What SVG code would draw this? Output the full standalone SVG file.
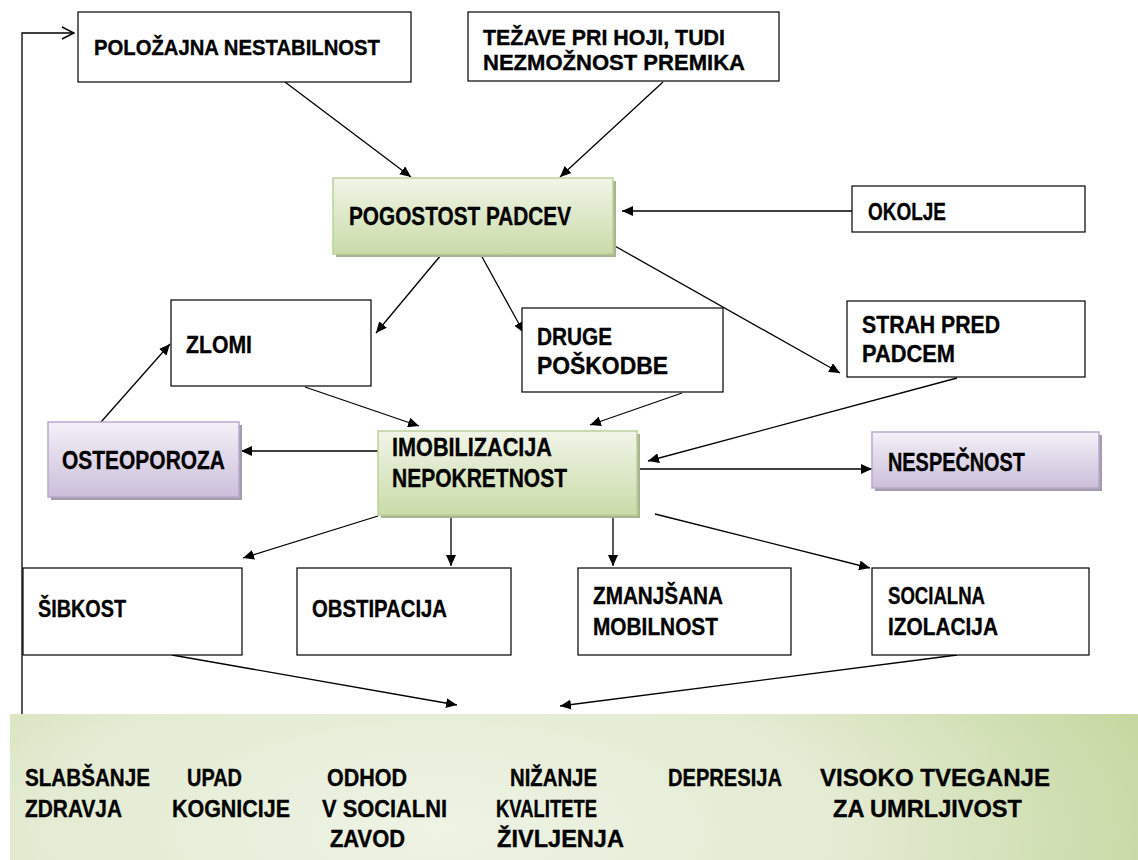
<svg xmlns="http://www.w3.org/2000/svg" width="1138" height="860" viewBox="0 0 1138 860">
<defs>
<linearGradient id="gGreen" x1="0" y1="0" x2="0" y2="1">
<stop offset="0" stop-color="#f1f5e8"/>
<stop offset="1" stop-color="#c9dba8"/>
</linearGradient>
<linearGradient id="gPurple" x1="0" y1="0" x2="0" y2="1">
<stop offset="0" stop-color="#f4f0f8"/>
<stop offset="1" stop-color="#cbbfda"/>
</linearGradient>
<radialGradient id="gBottom" cx="0.38" cy="0.8" r="0.72" gradientTransform="translate(0.38 0.8) scale(1 3.2) translate(-0.38 -0.8)">
<stop offset="0" stop-color="#eef3e4"/>
<stop offset="0.5" stop-color="#e3ebd2"/>
<stop offset="1" stop-color="#c0d497"/>
</radialGradient>
<marker id="ah" markerUnits="userSpaceOnUse" markerWidth="12" markerHeight="10" refX="11" refY="5" orient="auto">
<path d="M0,0 L11,5 L0,10 z" fill="#000"/>
</marker>
<marker id="av" markerUnits="userSpaceOnUse" markerWidth="14" markerHeight="14" refX="13" refY="7" orient="auto">
<path d="M1,1 L13,7 L1,13" fill="none" stroke="#000" stroke-width="1.4"/>
</marker>
</defs>
<style>
.box{fill:#fff;stroke:#000;stroke-width:1.2}
.gbox{fill:url(#gGreen);stroke:#bcd19a;stroke-width:1.5}
.pbox{fill:url(#gPurple);stroke:#b9a9cd;stroke-width:1.5}
.gsh{fill:#a8b592}
.psh{fill:#a39cad}
text{font-family:"Liberation Sans",Arial,sans-serif;font-weight:bold;fill:#000;stroke:#000;stroke-width:0.35;font-size:24px}
.big{font-size:26px}
.sm{font-size:22px}
.ln{stroke:#000;stroke-width:1.3;fill:none}
.arr{marker-end:url(#ah)}
</style>

<g id="connectors">
<line class="ln arr" x1="285" y1="82" x2="411" y2="177"/>
<line class="ln arr" x1="663" y1="82" x2="560" y2="177"/>
<line class="ln arr" x1="441" y1="255" x2="376" y2="333"/>
<line class="ln arr" x1="481" y1="255" x2="524" y2="333"/>
<line class="ln arr" x1="613" y1="245" x2="840" y2="373"/>
<line class="ln arr" x1="852" y1="211" x2="622" y2="211"/>
<line class="ln arr" x1="101" y1="422" x2="170" y2="344"/>
<line class="ln arr" x1="305" y1="387" x2="419" y2="426"/>
<line class="ln arr" x1="682" y1="393" x2="590" y2="425"/>
<line class="ln arr" x1="957" y1="378" x2="648" y2="461"/>
<line class="ln arr" x1="378" y1="451" x2="241" y2="451"/>
<line class="ln arr" x1="640" y1="469" x2="872" y2="469"/>
<line class="ln arr" x1="378" y1="516" x2="243" y2="558"/>
<line class="ln arr" x1="451" y1="518" x2="451" y2="566"/>
<line class="ln arr" x1="613" y1="518" x2="613" y2="566"/>
<line class="ln arr" x1="655" y1="514" x2="870" y2="568"/>
<line class="ln arr" x1="172" y1="655" x2="457" y2="705"/>
<line class="ln arr" x1="957" y1="655" x2="560" y2="706"/>
<polyline class="ln" points="22,715 22,33 74,33" marker-end="url(#av)"/>
</g>

<g id="n-polozajna">
<rect class="box" x="78" y="12" width="333" height="70"/>
<text x="94" y="55" class="sm" textLength="286" lengthAdjust="spacingAndGlyphs">POLOŽAJNA NESTABILNOST</text>
</g>
<g id="n-tezave">
<rect class="box" x="468" y="12" width="311" height="69"/>
<text x="483" y="45" class="sm" textLength="242" lengthAdjust="spacingAndGlyphs">TEŽAVE PRI HOJI, TUDI</text>
<text x="483" y="70" class="sm" textLength="262" lengthAdjust="spacingAndGlyphs">NEZMOŽNOST PREMIKA</text>
</g>
<g id="n-pogostost">
<rect class="gsh" x="336" y="181" width="280" height="76"/>
<rect class="gbox" x="333" y="178" width="280" height="76"/>
<text x="349" y="225" class="big" textLength="222" lengthAdjust="spacingAndGlyphs">POGOSTOST PADCEV</text>
</g>
<g id="n-okolje">
<rect class="box" x="852" y="186" width="233" height="46"/>
<text x="868" y="220" textLength="78" lengthAdjust="spacingAndGlyphs">OKOLJE</text>
</g>
<g id="n-zlomi">
<rect class="box" x="171" y="300" width="200" height="86"/>
<text x="186" y="353" textLength="66" lengthAdjust="spacingAndGlyphs">ZLOMI</text>
</g>
<g id="n-druge">
<rect class="box" x="522" y="308" width="201" height="84"/>
<text x="537" y="345" textLength="75" lengthAdjust="spacingAndGlyphs">DRUGE</text>
<text x="537" y="374" textLength="131" lengthAdjust="spacingAndGlyphs">POŠKODBE</text>
</g>
<g id="n-strah">
<rect class="box" x="847" y="301" width="238" height="76"/>
<text x="862" y="333" textLength="138" lengthAdjust="spacingAndGlyphs">STRAH PRED</text>
<text x="862" y="362" textLength="93" lengthAdjust="spacingAndGlyphs">PADCEM</text>
</g>
<g id="n-osteoporoza">
<rect class="psh" x="51" y="425" width="191" height="75"/>
<rect class="pbox" x="48" y="422" width="191" height="75"/>
<text x="62" y="469" class="big" textLength="163" lengthAdjust="spacingAndGlyphs">OSTEOPOROZA</text>
</g>
<g id="n-imobilizacija">
<rect class="gsh" x="381" y="434" width="259" height="84"/>
<rect class="gbox" x="378" y="431" width="259" height="84"/>
<text x="392" y="456" class="big" textLength="160" lengthAdjust="spacingAndGlyphs">IMOBILIZACIJA</text>
<text x="392" y="487" class="big" textLength="175" lengthAdjust="spacingAndGlyphs">NEPOKRETNOST</text>
</g>
<g id="n-nespecnost">
<rect class="psh" x="875" y="435" width="227" height="56"/>
<rect class="pbox" x="872" y="432" width="227" height="56"/>
<text x="888" y="471" class="big" textLength="137" lengthAdjust="spacingAndGlyphs">NESPEČNOST</text>
</g>
<g id="n-sibkost">
<rect class="box" x="23" y="568" width="219" height="87"/>
<text x="38" y="617" textLength="88" lengthAdjust="spacingAndGlyphs">ŠIBKOST</text>
</g>
<g id="n-obstipacija">
<rect class="box" x="297" y="568" width="214" height="87"/>
<text x="312" y="617" textLength="135" lengthAdjust="spacingAndGlyphs">OBSTIPACIJA</text>
</g>
<g id="n-zmanjsana">
<rect class="box" x="578" y="568" width="213" height="87"/>
<text x="593" y="604" textLength="130" lengthAdjust="spacingAndGlyphs">ZMANJŠANA</text>
<text x="593" y="635" textLength="125" lengthAdjust="spacingAndGlyphs">MOBILNOST</text>
</g>
<g id="n-socialna">
<rect class="box" x="872" y="568" width="217" height="87"/>
<text x="888" y="604" textLength="97" lengthAdjust="spacingAndGlyphs">SOCIALNA</text>
<text x="888" y="635" textLength="110" lengthAdjust="spacingAndGlyphs">IZOLACIJA</text>
</g>
<g id="n-posledice">
<rect x="10" y="714" width="1128" height="146" fill="url(#gBottom)"/>
<text x="25" y="786" textLength="125" lengthAdjust="spacingAndGlyphs">SLABŠANJE</text>
<text x="25" y="817" textLength="97" lengthAdjust="spacingAndGlyphs">ZDRAVJA</text>
<text x="187" y="786" textLength="55" lengthAdjust="spacingAndGlyphs">UPAD</text>
<text x="172" y="817" textLength="118" lengthAdjust="spacingAndGlyphs">KOGNICIJE</text>
<text x="327" y="786" textLength="80" lengthAdjust="spacingAndGlyphs">ODHOD</text>
<text x="322" y="817" textLength="125" lengthAdjust="spacingAndGlyphs">V SOCIALNI</text>
<text x="330" y="847" textLength="75" lengthAdjust="spacingAndGlyphs">ZAVOD</text>
<text x="510" y="786" textLength="87" lengthAdjust="spacingAndGlyphs">NIŽANJE</text>
<text x="496" y="817" textLength="101" lengthAdjust="spacingAndGlyphs">KVALITETE</text>
<text x="497" y="847" textLength="127" lengthAdjust="spacingAndGlyphs">ŽIVLJENJA</text>
<text x="668" y="786" textLength="114" lengthAdjust="spacingAndGlyphs">DEPRESIJA</text>
<text x="820" y="786" textLength="230" lengthAdjust="spacingAndGlyphs">VISOKO TVEGANJE</text>
<text x="833" y="817" textLength="189" lengthAdjust="spacingAndGlyphs">ZA UMRLJIVOST</text>
</g>
</svg>
